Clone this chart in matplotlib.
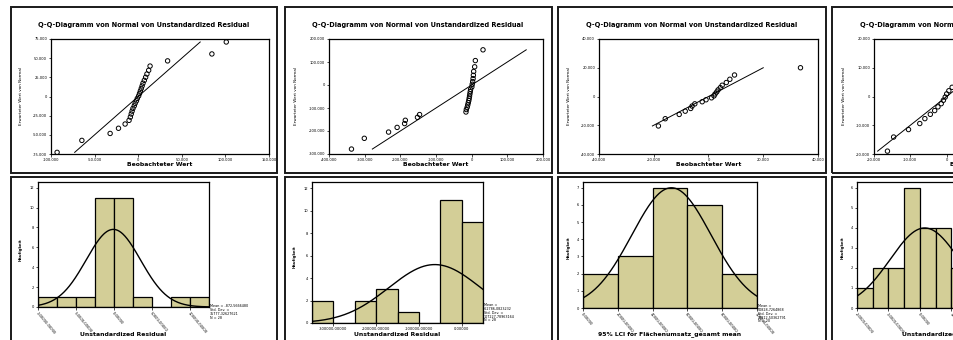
import numpy as np
import matplotlib
matplotlib.use('Agg')
import matplotlib.pyplot as plt
from matplotlib.patches import Rectangle
from matplotlib.ticker import FixedLocator, FuncFormatter

W, H = 954, 340

# ---- Q-Q data: observed residual (x) / expected normal value (y)
qq1_obs = [-93000, -64600, -32200, -22600, -15000, -10500, -9000, -8000, -7000, -6000,
           -4500, -3500, -2000, -1000, 500, 1500, 2500, 3500, 4500, 5500,
           7000, 8500, 10000, 12000, 13600, 33700, 84500, 101000]
qq1_exp = [-72860, -57260, -48200, -41440, -35900, -31100, -26810, -22800, -19080, -15540,
           -12180, -8890, -5630, -2450, 700, 3890, 7140, 10430, 13800, 17340,
           21060, 25060, 29360, 34150, 39700, 46460, 55510, 71110]

qq2_obs = [-337000, -301000, -233000, -209000, -188000, -186000, -152000, -146000, -16000, -15000,
           -12500, -11000, -9500, -8000, -7000, -6000, -5000, -4000, -3000, 500,
           1500, 2800, 4000, 4800, 5600, 8400, 10300, 31800]
qq2_exp = [-278500, -231800, -204650, -184380, -167760, -153390, -140530, -128520, -117360, -106750,
           -96670, -86800, -77050, -67500, -58070, -48520, -38770, -28900, -18820, -8210,
           2940, 14950, 27820, 42190, 58810, 79080, 106200, 152950]

qq3_obs = [-18300, -15800, -10700, -8500, -6500, -6000, -5000, -2300, -900, 1100,
           2000, 2400, 3000, 3500, 4300, 5000, 6500, 7800, 9500, 33600]
qq3_exp = [-20500, -15460, -12480, -10210, -8330, -6650, -5110, -3650, -2270, -920,
           420, 1770, 3150, 4610, 6150, 7830, 9710, 11980, 14960, 20000]

qq4_obs = [-16300, -14600, -10500, -7400, -6000, -4500, -3300, -2400, -1500, -900,
           -400, 0, 600, 1500, 2500, 4000, 5500, 7000, 9000, 12000, 16000, 24000]
qq4_exp = [-19000, -14100, -11500, -9400, -7700, -6200, -4900, -3600, -2500, -1300,
           -200, 900, 2000, 3200, 4400, 5700, 7200, 8900, 10900, 13400, 16800, 22000]

# ---- histogram data
h1_edges = [-100000, -75000, -50000, -25000, 0, 25000, 50000, 75000, 100000, 125000]
h1_counts = [1, 1, 1, 11, 11, 1, 0, 1, 1]
h1_mean, h1_sd, h1_n = -872.5666480, 35777.32627621, 28

h2_edges = [-350000, -300000, -250000, -200000, -150000, -100000, -50000, 0, 50000]
h2_counts = [2, 0, 2, 3, 1, 0, 11, 9]
h2_mean, h2_sd, h2_n = -62786.0823232, 107227.78963164, 28

h3_edges = [0, 20000, 40000, 60000, 80000, 100000]
h3_counts = [2, 3, 7, 6, 2]
h3_mean, h3_sd, h3_n = 50828.7264868, 22812.50362791, 20

h4_edges = [-20000, -15000, -10000, -5000, 0, 5000, 10000, 15000, 20000]
h4_counts = [1, 2, 2, 6, 4, 4, 2, 1]
h4_mean, h4_sd, h4_n = 1500.0, 11000.0, 22

BAR = '#d3ce97'
QQ_TITLE = 'Q-Q-Diagramm von Normal von Unstandardized Residual'

fig = plt.figure(figsize=(W / 100, H / 100), dpi=100)
fig.patch.set_facecolor('white')


def px_axes(left, top, right, bottom):
    return fig.add_axes([left / W, 1 - bottom / H, (right - left) / W, (bottom - top) / H])


def ftext(x, y, s, **kw):
    fig.text(x / W, 1 - y / H, s, **kw)


def frame(x0, y0, x1, y1):
    fig.add_artist(Rectangle((x0 / W, 1 - y1 / H), (x1 - x0) / W, (y1 - y0) / H,
                             transform=fig.transFigure, fill=False, lw=1.4, ec='#1a1a1a'))


def de_thousands(v, pos):
    return '{:,}'.format(int(round(v))).replace(',', '.')


def comma5(v):
    return '{:.5f}'.format(v).replace('.', ',')


def style(ax):
    for sp in ax.spines.values():
        sp.set_linewidth(0.9)
        sp.set_color('black')
    ax.tick_params(length=1.8, width=0.5, labelsize=2.6, pad=1, colors='black')


def qq_panel(box, obs, exp, xlim, ylim, xticks, yticks):
    ax = px_axes(*box)
    ax.scatter(obs, exp, s=10, facecolors='none', edgecolors='black', linewidths=0.7, zorder=3)
    lo, hi = min(exp), max(exp)
    ax.plot([lo, hi], [lo, hi], color='black', lw=0.7)
    ax.set_xlim(xlim)
    ax.set_ylim(ylim)
    ax.xaxis.set_major_locator(FixedLocator(xticks))
    ax.yaxis.set_major_locator(FixedLocator(yticks))
    ax.xaxis.set_major_formatter(FuncFormatter(de_thousands))
    ax.yaxis.set_major_formatter(FuncFormatter(de_thousands))
    style(ax)
    return ax


def hist_panel(box, edges, counts, mean, sd, n, ytop, yticks, xticks, rotate=True):
    ax = px_axes(*box)
    bw = edges[1] - edges[0]
    ax.bar(edges[:-1], counts, width=bw, align='edge', color=BAR, edgecolor='black', lw=0.9)
    xs = np.linspace(edges[0], edges[-1], 400)
    ys = n * bw / (sd * np.sqrt(2 * np.pi)) * np.exp(-0.5 * ((xs - mean) / sd) ** 2)
    ax.plot(xs, ys, color='black', lw=1.0)
    ax.set_xlim(edges[0], edges[-1])
    ax.set_ylim(0, ytop)
    ax.set_yticks(yticks)
    ax.set_xticks(xticks)
    if rotate:
        ax.set_xticklabels([comma5(t) for t in xticks], rotation=-50, ha='left', va='top',
                           rotation_mode='anchor')
    else:
        ax.set_xticklabels([comma5(t) for t in xticks])
    style(ax)
    return ax


# frames
for x0, x1 in [(11, 277), (285, 552), (558, 826), (832, 1100)]:
    frame(x0, 7, x1, 173)
    frame(x0, 177, x1, 345)

# Q-Q panels
qq_panel((51, 39, 269, 154), qq1_obs, qq1_exp, (-100000, 150000), (-75000, 75000),
         range(-100000, 150001, 50000), range(-75000, 75001, 25000))
qq_panel((329, 39, 543, 154), qq2_obs, qq2_exp, (-400000, 200000), (-300000, 200000),
         range(-400000, 200001, 100000), range(-300000, 200001, 100000))
qq_panel((599, 39, 818, 154), qq3_obs, qq3_exp, (-40000, 40000), (-40000, 40000),
         range(-40000, 40001, 20000), range(-40000, 40001, 20000))
qq_panel((874, 39, 1092, 154), qq4_obs, qq4_exp, (-20000, 40000), (-20000, 20000),
         range(-20000, 40001, 10000), range(-20000, 20001, 10000))

for cx, ax_l, ax_r, fx in [(144, 51, 269, 21), (418, 329, 543, 296), (692, 599, 818, 569),
                           (966, 874, 1092, 844)]:
    ftext(cx, 25, QQ_TITLE, fontsize=4.8, fontweight='bold', ha='center', va='center')
    ftext((ax_l + ax_r) / 2, 164, 'Beobachteter Wert', fontsize=4.4, fontweight='bold',
          ha='center', va='center')
    ftext(fx, 96, 'Erwarteter Wert von Normal', fontsize=3.0, rotation=90,
          ha='center', va='center')

# histograms
hist_panel((38, 182, 209, 307), h1_edges, h1_counts, h1_mean, h1_sd, h1_n, 12.57,
           range(0, 13, 2), [-100000, -50000, 0, 50000, 100000])
hist_panel((312, 182, 483, 323), h2_edges, h2_counts, h2_mean, h2_sd, h2_n, 12.57,
           range(0, 13, 2), [-300000, -200000, -100000, 0], rotate=False)
hist_panel((583, 182, 757, 308), h3_edges, h3_counts, h3_mean, h3_sd, h3_n, 7.33,
           range(0, 8), h3_edges)
hist_panel((857, 182, 983, 308), h4_edges, h4_counts, h4_mean, h4_sd, h4_n, 6.28,
           range(0, 7), [-20000, -10000, 0, 10000])

for fx, cy in [(21, 250), (295, 257), (569, 248), (843, 248)]:
    ftext(fx, cy, 'Häufigkeit', fontsize=2.8, fontweight='bold', rotation=90,
          ha='center', va='center')

ftext(123, 334, 'Unstandardized Residual', fontsize=4.4, fontweight='bold', ha='center', va='center')
ftext(397, 334, 'Unstandardized Residual', fontsize=4.4, fontweight='bold', ha='center', va='center')
ftext(670, 334, '95% LCI for Flächenumsatz_gesamt mean', fontsize=4.4, fontweight='bold',
      ha='center', va='center')
ftext(945, 334, 'Unstandardized Residual', fontsize=4.4, fontweight='bold', ha='center', va='center')

ftext(210, 304, 'Mean = -872,5666480\nStd. Dev. =\n35777,32627621\nN = 28',
      fontsize=2.4, ha='left', va='top', linespacing=0.95)
ftext(484, 303, 'Mean =\n-62786,0823232\nStd. Dev. =\n107227,78963164\nN = 28',
      fontsize=2.4, ha='left', va='top', linespacing=0.95)
ftext(758, 304, 'Mean =\n50828,7264868\nStd. Dev. =\n22812,50362791\nN = 20',
      fontsize=2.4, ha='left', va='top', linespacing=0.95)

fig.savefig('out.png', dpi=100)
